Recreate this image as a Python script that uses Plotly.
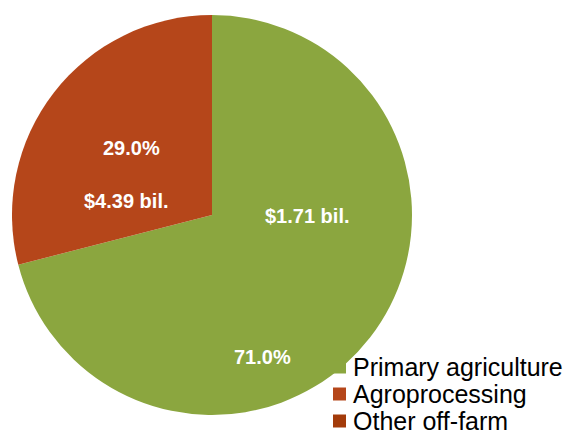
import plotly.graph_objects as go

# Share of value by segment
labels = ["Primary agriculture", "Agroprocessing", "Other off-farm"]
shares = [71.0, 29.0, 0.0]
colors = ["#8BA63F", "#B5461A", "#A33B0A"]
dollar_labels = ["$1.71 bil.", "$4.39 bil."]

W, H = 577, 432
cx, cy, r = 212, 215, 200

fig = go.Figure(go.Pie(
    labels=labels,
    values=shares,
    marker=dict(colors=colors, line=dict(width=0)),
    sort=False,
    direction="clockwise",
    rotation=0,
    textinfo="none",
    hoverinfo="label+percent",
    domain=dict(x=[(cx - r) / W, (cx + r) / W], y=[1 - (cy + r) / H, 1 - (cy - r) / H]),
    showlegend=False,
))

font_family = "Liberation Sans, Arial, sans-serif"
lbl_font = dict(family=font_family, size=20, color="white")

# positions (px) for percentage and dollar text inside each slice
pct_pos = [(262, 357), (131, 148)]
dol_pos = [(307, 216), (126, 201)]
annotations = []
shapes = []
for i in range(2):
    px, py = pct_pos[i]
    annotations.append(dict(x=px / W, y=1 - py / H, xref="paper", yref="paper",
                            xanchor="center", yanchor="middle",
                            text=f"<b>{shares[i]:.1f}%</b>", showarrow=False, font=lbl_font))
    dx, dy = dol_pos[i]
    annotations.append(dict(x=dx / W, y=1 - dy / H, xref="paper", yref="paper",
                            xanchor="center", yanchor="middle",
                            text=f"<b>{dollar_labels[i]}</b>", showarrow=False, font=lbl_font))

# Legend: square swatch plus label for every segment
leg_x, leg_y0, leg_dy, sw = 333, 367, 27, 13
for i, (lab, col) in enumerate(zip(labels, colors)):
    yc = leg_y0 + i * leg_dy
    shapes.append(dict(type="rect", xref="paper", yref="paper",
                       x0=leg_x / W, x1=(leg_x + sw) / W,
                       y0=1 - (yc + sw / 2) / H, y1=1 - (yc - sw / 2) / H,
                       fillcolor=col, line=dict(width=0)))
    annotations.append(dict(x=(leg_x + sw + 5) / W, y=1 - yc / H, xref="paper", yref="paper",
                            xanchor="left", yanchor="middle", text=lab, showarrow=False,
                            font=dict(family=font_family, size=25, color="black")))

fig.update_layout(
    width=W, height=H,
    margin=dict(l=0, r=0, t=0, b=0),
    paper_bgcolor="white",
    plot_bgcolor="white",
    annotations=annotations,
    shapes=shapes,
)

fig.write_html("out.html")
